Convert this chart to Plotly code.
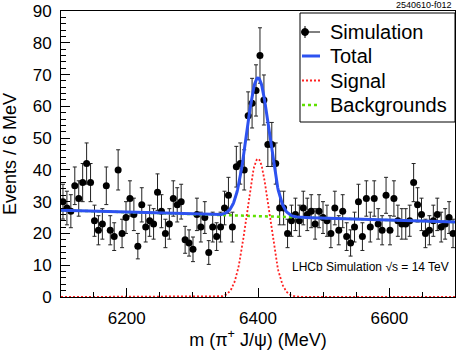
"""Invariant-mass fit of pi+ J/psi simulation, recreated with Plotly."""

import numpy as np
import plotly.graph_objects as go

# binned simulation (6 MeV bins from 6100 to 6700 MeV)
bin_centers = [6103 + 6 * i for i in range(100)]
events = [
    30, 28, 27, 35, 31, 36, 42, 36, 24, 21,
    23, 35, 21, 19, 40, 20, 25, 31, 26, 16,
    29, 22, 24, 23, 33, 27, 20, 23, 31, 29,
    30, 18, 17, 15, 26, 22, 25, 14, 22, 19,
    22, 28, 32, 22, 41, 42, 40, 57, 61, 65,
    76, 62, 48, 48, 42, 28, 28, 20, 24, 26,
    24, 28, 26, 27, 23, 27, 25, 24, 20, 28,
    21, 27, 19, 17, 22, 30, 19, 31, 22, 31,
    23, 21, 32, 21, 31, 24, 23, 23, 24, 36,
    29, 26, 20, 21, 24, 26, 22, 23, 25, 20,
]

# fit result
sig_mean = 6400.0
sig_sigma = 17.0
sig_peak = 43.5
bkg_left = 27.3
bkg_right = 23.6
mass_min, mass_max = 6100.0, 6700.0

legend_labels = ["Simulation", "Total", "Signal", "Backgrounds"]

FONT = "Liberation Sans, Arial, Helvetica, sans-serif"
BLUE = "#2d52f0"
RED = "#ff2020"
GREEN = "#5fe000"

# plot area in pixels, used to place the hand-drawn legend
PLOT_L, PLOT_R, PLOT_T, PLOT_B = 61, 455, 11, 297


def _px(x: float) -> float:
    return (x - PLOT_L) / (PLOT_R - PLOT_L)


def _py(y: float) -> float:
    return (PLOT_B - y) / (PLOT_B - PLOT_T)


mass_grid = np.linspace(mass_min, mass_max, 601)
signal = sig_peak * np.exp(-0.5 * ((mass_grid - sig_mean) / sig_sigma) ** 2)
background = bkg_left + (bkg_right - bkg_left) * (mass_grid - mass_min) / (mass_max - mass_min)
total = signal + background

fig = go.Figure()
fig.add_trace(
    go.Scatter(
        x=bin_centers,
        y=events,
        mode="markers",
        name="Simulation",
        marker={"color": "black", "size": 7},
        error_y={"type": "sqrt", "color": "#222222", "thickness": 1, "width": 2},
    )
)
fig.add_trace(
    go.Scatter(
        x=mass_grid,
        y=background,
        mode="lines",
        name="Backgrounds",
        line={"color": GREEN, "width": 2.5, "dash": "3px,3px"},
    )
)
fig.add_trace(
    go.Scatter(
        x=mass_grid,
        y=total,
        mode="lines",
        name="Total",
        line={"color": BLUE, "width": 3},
    )
)
fig.add_trace(
    go.Scatter(
        x=mass_grid,
        y=signal,
        mode="lines",
        name="Signal",
        line={"color": RED, "width": 1.8, "dash": "2px,2px"},
    )
)

fig.update_xaxes(
    range=[mass_min, mass_max],
    showline=True,
    linecolor="black",
    linewidth=1,
    mirror=True,
    showgrid=False,
    zeroline=False,
    ticks="inside",
    ticklen=9,
    tickcolor="black",
    tick0=6000,
    dtick=200,
    minor={"dtick": 50, "ticks": "inside", "ticklen": 5, "tickcolor": "black"},
    ticklabelstandoff=6,
    tickfont={"size": 17, "color": "black"},
    title={"text": "m (π<sup>+</sup> J/ψ) (MeV)", "font": {"size": 18, "color": "black"}, "standoff": 4},
)
fig.update_yaxes(
    range=[0, 90],
    showline=True,
    linecolor="black",
    linewidth=1,
    mirror=True,
    showgrid=False,
    zeroline=False,
    ticks="inside",
    ticklen=9,
    tickcolor="black",
    dtick=10,
    minor={"dtick": 2, "ticks": "inside", "ticklen": 5, "tickcolor": "black"},
    ticklabelstandoff=5,
    tickfont={"size": 17, "color": "black"},
    title={"text": "Events / 6 MeV", "font": {"size": 18, "color": "black"}, "standoff": 14},
)

# legend drawn by hand so its rows match the original spacing
row_y = [32, 56, 80.5, 105]
shapes = [
    {"type": "rect", "xref": "paper", "yref": "paper",
     "x0": _px(300), "x1": _px(455), "y0": _py(122), "y1": _py(13),
     "line": {"color": "black", "width": 1}, "fillcolor": "white", "layer": "above"},
    {"type": "line", "xref": "paper", "yref": "paper",
     "x0": _px(302), "x1": _px(320), "y0": _py(row_y[0]), "y1": _py(row_y[0]),
     "line": {"color": "black", "width": 1}, "layer": "above"},
    {"type": "line", "xref": "paper", "yref": "paper",
     "x0": _px(305), "x1": _px(305), "y0": _py(row_y[0] + 6), "y1": _py(row_y[0] - 6),
     "line": {"color": "black", "width": 1}, "layer": "above"},
    {"type": "circle", "xref": "paper", "yref": "paper",
     "x0": _px(301.5), "x1": _px(308.5), "y0": _py(row_y[0] + 3.5), "y1": _py(row_y[0] - 3.5),
     "line": {"color": "black", "width": 1}, "fillcolor": "black", "layer": "above"},
    {"type": "line", "xref": "paper", "yref": "paper",
     "x0": _px(302), "x1": _px(320), "y0": _py(row_y[1]), "y1": _py(row_y[1]),
     "line": {"color": BLUE, "width": 3}, "layer": "above"},
    {"type": "line", "xref": "paper", "yref": "paper",
     "x0": _px(302), "x1": _px(320), "y0": _py(row_y[2]), "y1": _py(row_y[2]),
     "line": {"color": RED, "width": 1.8, "dash": "2px,2px"}, "layer": "above"},
    {"type": "line", "xref": "paper", "yref": "paper",
     "x0": _px(302), "x1": _px(320), "y0": _py(row_y[3]), "y1": _py(row_y[3]),
     "line": {"color": GREEN, "width": 2.5, "dash": "3px,3px"}, "layer": "above"},
]

annotations = [
    {"text": label, "xref": "paper", "yref": "paper", "x": _px(328), "y": _py(y),
     "xanchor": "left", "yanchor": "middle", "showarrow": False, "font": {"size": 20}}
    for label, y in zip(legend_labels, row_y)
]
annotations += [
    {"text": "LHCb Simulation √s = 14 TeV", "xref": "paper", "yref": "paper",
     "x": _px(451), "y": _py(267), "xanchor": "right", "yanchor": "middle",
     "showarrow": False, "font": {"size": 12}},
    {"text": "2540610-f012", "xref": "paper", "yref": "paper",
     "x": _px(454), "y": _py(5), "xanchor": "right", "yanchor": "middle",
     "showarrow": False, "font": {"size": 9}},
]

fig.update_layout(
    width=457,
    height=350,
    margin={"l": PLOT_L, "r": 457 - PLOT_R, "t": PLOT_T, "b": 350 - PLOT_B},
    plot_bgcolor="white",
    paper_bgcolor="white",
    font={"family": FONT, "color": "black"},
    showlegend=False,
    shapes=shapes,
    annotations=annotations,
)

fig.write_html(
    "out.html",
    config={"displayModeBar": False},
    post_script="document.body.style.margin = '0';",
)
